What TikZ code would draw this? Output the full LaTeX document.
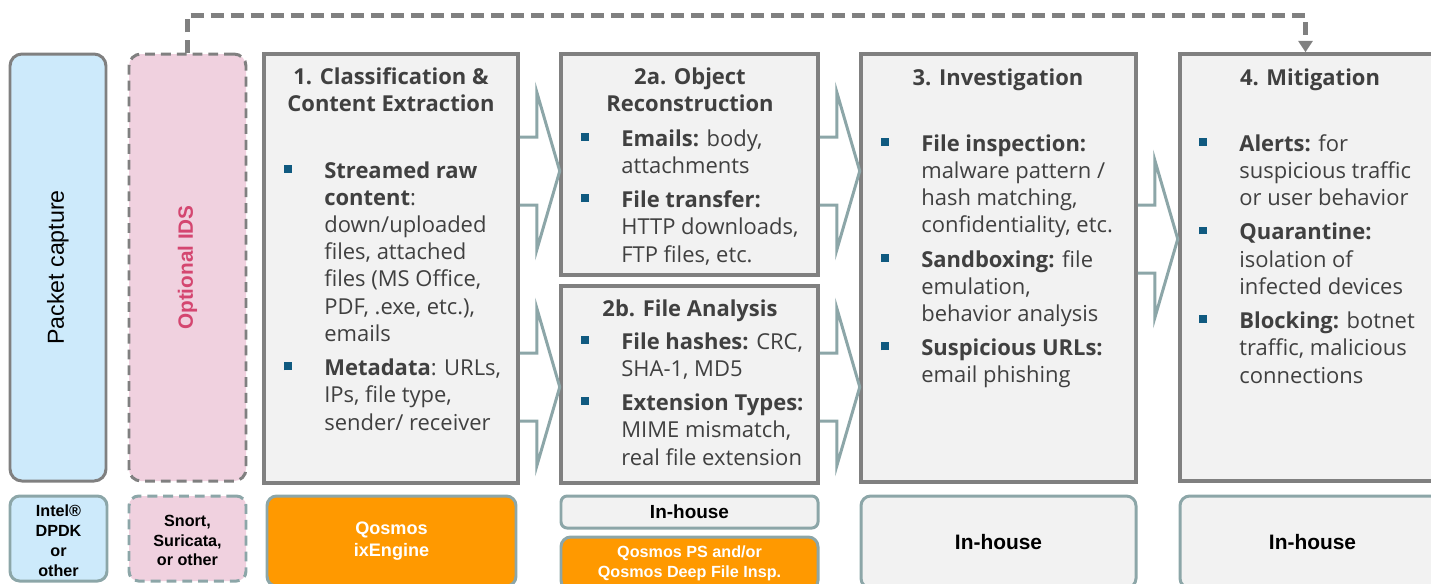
\documentclass[tikz,border=0pt]{standalone}
\usepackage{fontspec}
\setmainfont{Open Sans}
\newfontfamily\arial{Liberation Sans}
\usetikzlibrary{fit, arrows.meta}

\definecolor{boxgray}{RGB}{128,128,128}
\definecolor{boxfill}{RGB}{242,242,242}
\definecolor{tealgray}{RGB}{140,166,168}
\definecolor{capblue}{RGB}{205,234,251}
\definecolor{idspink}{RGB}{240,209,223}
\definecolor{idsred}{RGB}{212,70,112}
\definecolor{qorange}{RGB}{255,153,0}
\definecolor{bulletblue}{RGB}{16,90,128}
\definecolor{textgray}{RGB}{64,64,64}

% square bullet hanging left of the item text
\newcommand\itm{\leavevmode\llap{\raisebox{3.1pt}{\textcolor{bulletblue}{\rule{4.5pt}{4.5pt}}}\hspace{18.2pt}}}

\tikzset{
  stage/.style={draw=boxgray, fill=boxfill, line width=2pt, inner sep=0pt},
  side/.style={draw=boxgray, line width=1.7pt, rounded corners=6.8pt, inner sep=0pt},
  tool/.style={draw=tealgray, line width=1.7pt, rounded corners=5.5pt, inner sep=0pt},
  toolname/.style={align=center, inner sep=0pt, font=\arial\bfseries\fontsize{9.2pt}{11.3pt}\selectfont},
  head/.style={anchor=north, align=center, inner sep=0pt, text=textgray,
    font=\bfseries\fontsize{12.5pt}{15.5pt}\selectfont},
  body/.style={anchor=north west, align=left, inner sep=0pt, text=textgray,
    font=\fontsize{12.5pt}{15.5pt}\selectfont},
  arrowline/.style={draw=tealgray, line width=1.7pt, line join=miter},
  feedback/.style={draw=boxgray, line width=2.3pt, dash pattern=on 7.4pt off 4pt,
    -{Triangle[width=8pt, length=6.5pt]}},
  pics/flowarrow/.style={code={
    \draw[arrowline] (0,-34) -- (17,-34) -- (17,-79) -- (40,0) -- (17,79) -- (17,34) -- (0,34);
  }}
}

\begin{document}
\begin{tikzpicture}[x=0.02cm, y=-0.02cm]
  \clip (0,0) rectangle (1431,583);

  % capture and IDS columns
  \node[side, fill=capblue, fit={(10,54) (106,481)}] (pcap) {};
  \node[rotate=90, font=\arial\fontsize{13.2pt}{15pt}\selectfont] (pcaptext) at (pcap.center) {Packet capture};
  \node[side, fill=idspink, dash pattern=on 5.6pt off 3.4pt, fit={(129,54) (246,481)}] (ids) {};
  \node[rotate=90, text=idsred, font=\arial\bfseries\fontsize{11.8pt}{14pt}\selectfont] (idstext) at (ids.center) {Optional IDS};

  % processing stages
  \node[stage, fit={(264,54) (518,483)}] (c1) {};
  \node[stage, fit={(561,54) (818,275)}] (c2a) {};
  \node[stage, fit={(561,286) (818,483)}] (c2b) {};
  \node[stage, fit={(861,54) (1136,482)}] (c3) {};
  \node[stage, fit={(1180,54) (1445,481)}] (c4) {};

  \node[head] (c1title) at (391,67) {1. Classification \&\\Content Extraction};
  \node[body] (c1list) at (324,161) {\itm\textbf{Streamed raw}\\
    \textbf{content}:\\
    down/uploaded\\
    files, attached\\
    files (MS Office,\\
    PDF, .exe, etc.),\\
    emails\\[4pt]
    \itm\textbf{Metadata}: URLs,\\
    IPs, file type,\\
    sender/ receiver};

  \node[head] (c2atitle) at (690,67) {2a. Object\\Reconstruction};
  \node[body] (c2alist) at (621,129) {\itm\textbf{Emails:} body,\\
    attachments\\[4pt]
    \itm\textbf{File transfer:}\\
    HTTP downloads,\\
    FTP files, etc.};

  \node[head] (c2btitle) at (690,299) {2b. File Analysis};
  \node[body] (c2blist) at (621,332) {\itm\textbf{File hashes:} CRC,\\
    SHA-1, MD5\\[4pt]
    \itm\textbf{Extension Types:}\\
    MIME mismatch,\\
    real file extension};

  \node[head] (c3title) at (998,68) {3. Investigation};
  \node[body] (c3list) at (921,134) {\itm\textbf{File inspection:}\\
    malware pattern /\\
    hash matching,\\
    confidentiality, etc.\\[4pt]
    \itm\textbf{Sandboxing:} file\\
    emulation,\\
    behavior analysis\\[4pt]
    \itm\textbf{Suspicious URLs:}\\
    email phishing};

  \node[head] (c4title) at (1310,68) {4. Mitigation};
  \node[body] (c4list) at (1239,134) {\itm\textbf{Alerts:} for\\
    suspicious traffic\\
    or user behavior\\[4pt]
    \itm\textbf{Quarantine:}\\
    isolation of\\
    infected devices\\[4pt]
    \itm\textbf{Blocking:} botnet\\
    traffic, malicious\\
    connections};

  % hollow arrows between stages
  \path (c1.east) ++(0,-97.5) pic {flowarrow};
  \path (c1.east) ++(0,118.5) pic {flowarrow};
  \path (c2a.east) ++(0,6.5) pic {flowarrow};
  \path (c2b.east) ++(0,2.5) pic {flowarrow};
  \path (c3.east) ++(0,-29) pic {flowarrow};

  % IDS feeds mitigation directly
  \draw[feedback] (ids.north) -- ++(0,-37) -| ([xshift=-0.14cm]c4.north);

  % implementations
  \node[tool, fill=capblue, fit={(10,496) (107,581)}] (dpdk) {};
  \node[toolname] (dpdkname) at ([yshift=-0.04cm]dpdk.center) {Intel®\\DPDK\\or\\other};
  \node[tool, fill=idspink, dash pattern=on 5.6pt off 3.4pt, fit={(129,496) (246,581)}] (snort) {};
  \node[toolname] (snortname) at ([yshift=-0.04cm]snort.center) {Snort,\\Suricata,\\or other};
  \node[tool, fill=qorange, fit={(267,496) (516,586)}] (ixe) {};
  \node[toolname, text=white, font=\arial\bfseries\fontsize{10.3pt}{12.5pt}\selectfont] (ixename) at (ixe.center) {Qosmos\\ixEngine};
  \node[tool, fill=boxfill, rounded corners=3.5pt, fit={(561,496) (818,528)}] (inh2) {};
  \node[toolname, font=\arial\bfseries\fontsize{10.8pt}{12pt}\selectfont] (inh2name) at (inh2.center) {In-house};
  \node[tool, fill=qorange, fit={(561,537) (818,590)}] (qps) {};
  \node[toolname, text=white] (qpsname) at (qps.center) {Qosmos PS and/or\\Qosmos Deep File Insp.};
  \node[tool, fill=boxfill, fit={(861,496) (1136,588)}] (inh3) {};
  \node[toolname, font=\arial\bfseries\fontsize{11.9pt}{13pt}\selectfont] (inh3name) at (inh3.center) {In-house};
  \node[tool, fill=boxfill, fit={(1180,496) (1445,588)}] (inh4) {};
  \node[toolname, font=\arial\bfseries\fontsize{11.9pt}{13pt}\selectfont] (inh4name) at (inh4.center) {In-house};
\end{tikzpicture}
\end{document}
